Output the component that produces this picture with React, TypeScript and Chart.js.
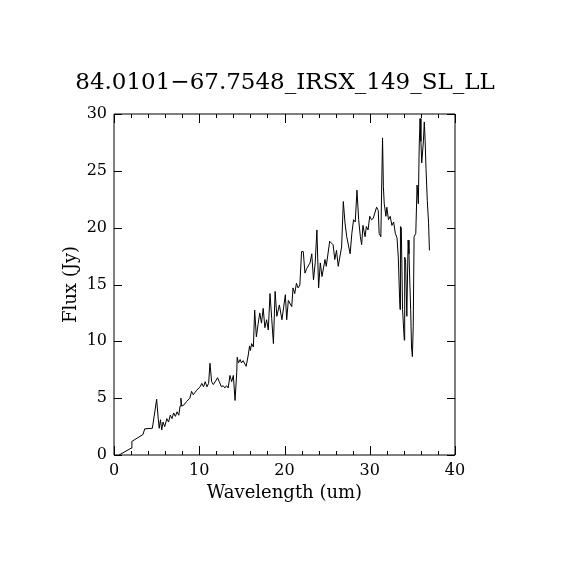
import React, { useEffect, useRef } from "react";
import { Chart, registerables } from "chart.js";

Chart.register(...registerables);

const TITLE = "84.0101\u221267.7548_IRSX_149_SL_LL";
const X_LABEL = "Wavelength (um)";
const Y_LABEL = "Flux (Jy)";

const wavelength = [
  0.6, 2.0, 2.1, 3.4, 3.6, 4.5, 5.0, 5.2, 5.3, 5.45, 5.6, 5.75, 5.95, 6.2, 6.4, 6.6, 6.8, 7.0, 7.2, 7.4,
  7.6, 7.75, 7.85, 7.95, 8.2, 8.5, 8.9, 9.1, 9.3, 9.7, 10.1, 10.3, 10.5, 10.7, 10.9, 11.1, 11.26, 11.45, 11.65, 12.0,
  12.15, 12.35, 12.6, 12.8, 13.0, 13.2, 13.4, 13.6, 13.8, 14.0, 14.2, 14.4, 14.45, 14.6, 14.8, 14.95, 15.15, 15.5, 15.75, 15.9,
  16.0, 16.15, 16.35, 16.5, 16.7, 16.9, 17.1, 17.3, 17.5, 17.7, 17.9, 18.1, 18.3, 18.5, 18.7, 18.9, 19.1, 19.4, 19.7, 19.9,
  20.1, 20.26, 20.45, 20.85, 21.0, 21.2, 21.4, 21.6, 21.8, 22.0, 22.2, 22.4, 22.6, 23.0, 23.2, 23.4, 23.6, 23.8, 24.0, 24.2,
  24.4, 24.75, 24.9, 25.3, 25.7, 25.9, 26.1, 26.3, 26.7, 26.9, 27.1, 27.3, 27.7, 27.9, 28.1, 28.3, 28.5, 28.7, 28.9, 29.05,
  29.2, 29.45, 29.6, 29.8, 30.0, 30.2, 30.4, 30.8, 31.0, 31.1, 31.3, 31.5, 31.6, 31.7, 31.9, 32.0, 32.2, 32.4, 32.6, 32.8,
  33.0, 33.2, 33.35, 33.5, 33.55, 33.6, 33.7, 33.85, 34.05, 34.1, 34.2, 34.35, 34.5, 34.6, 34.8, 34.9, 35.0, 35.1, 35.2, 35.4,
  35.55, 35.7, 35.8, 35.9, 36.0, 36.1, 36.3, 36.4, 36.5, 36.6, 36.75, 36.9, 37.0,
];

const flux = [
  0.0, 0.6, 1.2, 1.8, 2.3, 2.35, 4.9, 3.1, 2.35, 3.1, 2.2, 2.9, 2.5, 3.2, 2.9, 3.5, 3.2, 3.7, 3.4, 3.8,
  3.5, 4.3, 5.0, 4.3, 4.4, 4.7, 5.0, 5.6, 5.3, 5.7, 6.0, 6.3, 6.0, 6.45, 6.0, 6.3, 8.07, 6.45, 6.2, 6.6,
  6.8, 6.45, 6.0, 6.1, 5.9, 6.1, 5.9, 7.0, 6.45, 7.0, 4.8, 7.3, 8.6, 8.1, 8.4, 8.1, 8.3, 7.8, 8.8, 9.6,
  9.2, 9.8, 9.5, 12.75, 10.4, 11.5, 12.5, 11.6, 12.9, 11.2, 11.9, 11.0, 14.2, 12.0, 9.8, 14.4, 12.2, 13.2, 11.9, 13.0,
  14.1, 11.9, 13.6, 13.05, 14.7, 14.2, 15.1, 14.7, 14.95, 17.9, 17.9, 16.0, 16.4, 16.9, 17.7, 15.4, 16.9, 19.8, 14.7, 16.9,
  15.7, 17.2, 16.6, 18.8, 18.5, 17.2, 18.0, 16.6, 18.3, 22.3, 20.4, 19.2, 17.7, 19.5, 20.7, 20.5, 23.3, 20.7, 19.2, 18.5,
  20.2, 19.2, 20.1, 19.8, 21.0, 20.7, 20.8, 21.8, 21.5, 19.5, 19.2, 27.9, 23.6, 22.1, 21.0, 21.8, 20.7, 21.0, 20.2, 20.5,
  19.5, 19.1, 17.4, 13.8, 12.8, 20.1, 20.0, 12.8, 10.1, 17.4, 17.2, 12.2, 18.9, 17.7, 12.8, 9.5, 8.65, 11.3, 19.2, 19.5,
  23.75, 22.1, 27.1, 29.6, 27.6, 25.7, 27.7, 29.3, 27.6, 25.2, 22.4, 20.4, 18.0,
];

const X_MIN = 0;
const X_MAX = 40;
const X_STEP = 10;
const X_MINOR_STEP = 2;
const Y_MIN = 0;
const Y_MAX = 30;
const Y_STEP = 5;

const FONT = "'DejaVu Serif', serif";

const frameTicks = {
  id: "frameTicks",
  afterDatasetsDraw(chart: any) {
    const { ctx, chartArea, scales } = chart;
    const { left, right, top, bottom } = chartArea;
    ctx.save();
    ctx.strokeStyle = "#000";
    ctx.lineWidth = 1;
    ctx.beginPath();
    ctx.rect(left, top, right - left, bottom - top);
    ctx.stroke();
    const xs = scales.x;
    const ys = scales.y;
    ctx.beginPath();
    for (let v = X_MIN; v <= X_MAX + 1e-9; v += X_MINOR_STEP) {
      const px = Math.round(xs.getPixelForValue(v)) + 0.5;
      const len = Math.abs(v % X_STEP) < 1e-9 ? 9 : 4;
      ctx.moveTo(px, bottom);
      ctx.lineTo(px, bottom - len);
      ctx.moveTo(px, top);
      ctx.lineTo(px, top + len);
    }
    for (let v = Y_MIN; v <= Y_MAX + 1e-9; v += Y_STEP) {
      const py = Math.round(ys.getPixelForValue(v)) + 0.5;
      ctx.moveTo(left, py);
      ctx.lineTo(left + 8, py);
      ctx.moveTo(right, py);
      ctx.lineTo(right - 8, py);
    }
    ctx.stroke();
    ctx.restore();
  },
};

const whiteBg = {
  id: "whiteBg",
  beforeDraw(chart: any) {
    const { ctx, width, height } = chart;
    ctx.save();
    ctx.fillStyle = "#fff";
    ctx.fillRect(0, 0, width, height);
    ctx.restore();
  },
};

export default function App() {
  const ref = useRef<HTMLCanvasElement | null>(null);

  useEffect(() => {
    if (!ref.current) return;
    const points = wavelength.map((x, i) => ({ x, y: flux[i] }));
    const chart = new Chart(ref.current, {
      type: "line",
      data: {
        datasets: [
          {
            data: points,
            borderColor: "#000",
            borderWidth: 1,
            pointRadius: 0,
            tension: 0,
            fill: false,
          },
        ],
      },
      plugins: [whiteBg, frameTicks],
      options: {
        animation: false,
        responsive: false,
        maintainAspectRatio: false,
        layout: { padding: 0 },
        plugins: {
          legend: { display: false },
          tooltip: { enabled: false },
          title: {
            display: true,
            text: TITLE,
            color: "#000",
            font: { family: FONT, size: 23, weight: "normal" },
            padding: { top: 69, bottom: 17.4 },
          },
        },
        scales: {
          x: {
            type: "linear",
            position: "bottom",
            min: X_MIN,
            max: X_MAX,
            ticks: {
              stepSize: X_STEP,
              color: "#000",
              font: { family: FONT, size: 16 },
              padding: 6,
              maxRotation: 0,
            },
            grid: { display: false, drawTicks: false },
            border: { display: false },
            title: {
              display: true,
              text: X_LABEL,
              color: "#000",
              font: { family: FONT, size: 18 },
              padding: { top: 0, bottom: 66 },
            },
            afterFit: (s: any) => {
              s.height = 115;
            },
          },
          y: {
            type: "linear",
            position: "left",
            min: Y_MIN,
            max: Y_MAX,
            ticks: {
              stepSize: Y_STEP,
              color: "#000",
              font: { family: FONT, size: 16 },
              padding: 7,
            },
            grid: { display: false, drawTicks: false },
            border: { display: false },
            title: {
              display: true,
              text: Y_LABEL,
              color: "#000",
              font: { family: FONT, size: 18 },
              padding: { top: 61, bottom: 0 },
            },
            afterFit: (s: any) => {
              s.width = 114;
            },
          },
          yRight: {
            type: "linear",
            position: "right",
            min: Y_MIN,
            max: Y_MAX,
            ticks: { display: false },
            grid: { display: false, drawTicks: false },
            border: { display: false },
            afterFit: (s: any) => {
              s.width = 115;
            },
          },
        },
      },
    });
    return () => chart.destroy();
  }, []);

  return (
    <div style={{ position: "absolute", left: 0, top: 0, width: 570, height: 570, background: "#fff" }}>
      <canvas ref={ref} width={570} height={570} style={{ display: "block" }} />
    </div>
  );
}
